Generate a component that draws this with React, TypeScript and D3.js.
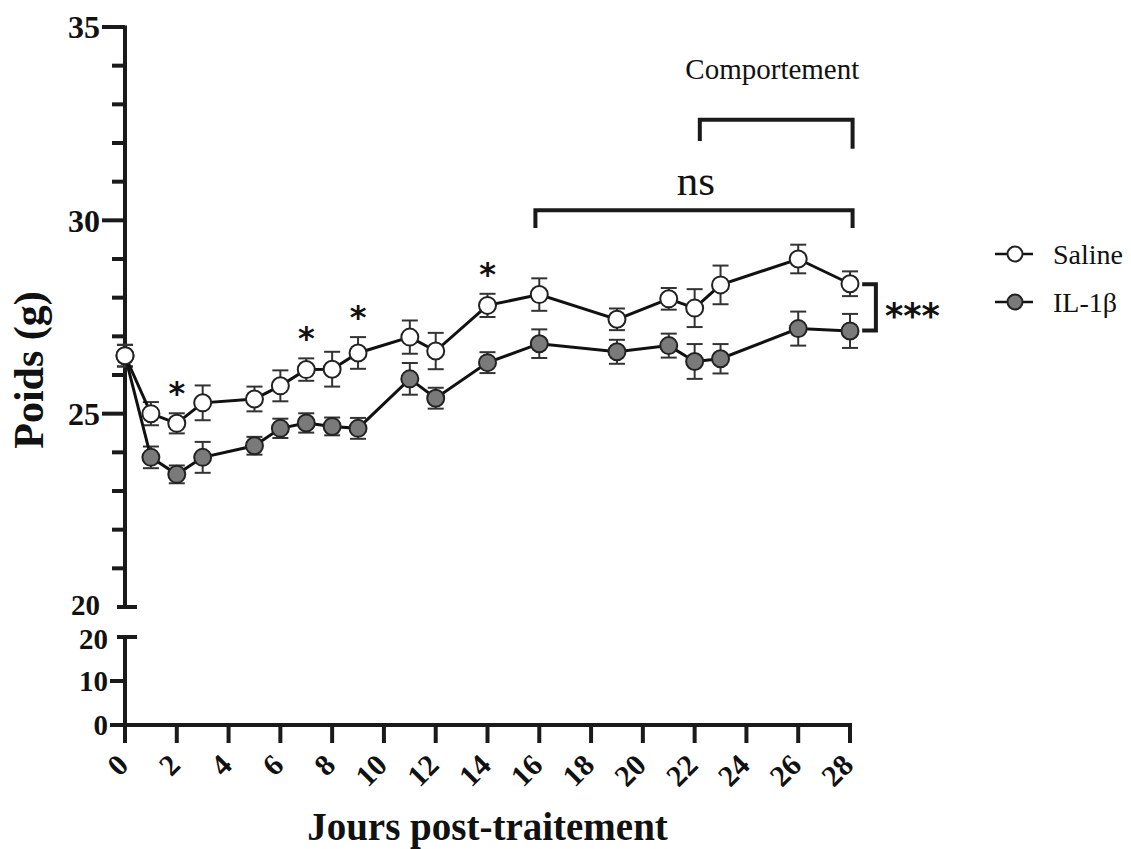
import React from "react";
import * as d3 from "d3";

const days = [0, 1, 2, 3, 5, 6, 7, 8, 9, 11, 12, 14, 16, 19, 21, 22, 23, 26, 28];
const saline = [26.5, 25.0, 24.75, 25.28, 25.38, 25.72, 26.14, 26.15, 26.57, 26.98, 26.62, 27.8, 28.08, 27.44, 27.97, 27.73, 28.33, 29.0, 28.36];
const salineSem = [0.28, 0.3, 0.26, 0.45, 0.32, 0.4, 0.29, 0.45, 0.41, 0.43, 0.47, 0.3, 0.42, 0.28, 0.28, 0.49, 0.5, 0.37, 0.32];
const il1b = [26.5, 23.87, 23.43, 23.87, 24.17, 24.62, 24.76, 24.67, 24.62, 25.9, 25.4, 26.32, 26.81, 26.6, 26.76, 26.35, 26.42, 27.2, 27.14];
const il1bSem = [0.28, 0.28, 0.23, 0.4, 0.23, 0.25, 0.25, 0.23, 0.27, 0.41, 0.27, 0.27, 0.37, 0.31, 0.31, 0.45, 0.38, 0.44, 0.44];
const starDays = [2, 7, 9, 14];
const xTicks = d3.range(0, 29, 2);
const yUpperMajor = [20, 25, 30, 35];
const yUpperMinor = d3.range(21, 35).filter((v) => v % 5 !== 0);
const yLowerTicks = [0, 10, 20];
const seriesNames = ["Saline", "IL-1\u03b2"];

const serif = "'Liberation Serif', 'Times New Roman', serif";
const sans = "'DejaVu Sans', sans-serif";

export default function App() {
  const x = d3.scaleLinear().domain([0, 28]).range([125, 850]);
  const yU = d3.scaleLinear().domain([20, 35]).range([607, 27]);
  const yL = d3.scaleLinear().domain([0, 20]).range([725, 637]);
  const axisX = x(0);
  const line = d3
    .line<[number, number]>()
    .x((d) => x(d[0]))
    .y((d) => yU(d[1]));

  const series = [
    { vals: saline, sem: salineSem, fill: "#ffffff" },
    { vals: il1b, sem: il1bSem, fill: "#7a7a7a" },
  ];

  const stroke = "#1a1a1a";

  return (
    <svg width={1131} height={849} style={{ position: "absolute", left: 0, top: 0, background: "#fff" }}>
      {/* Upper y axis */}
      <line x1={axisX} x2={axisX} y1={yU(35) - 1.5} y2={yU(20)} stroke={stroke} strokeWidth={4} />
      {yUpperMajor.filter((v) => v !== 20).map((v) => (
        <line key={"ma" + v} x1={102} x2={axisX} y1={yU(v)} y2={yU(v)} stroke={stroke} strokeWidth={4} />
      ))}
      {yUpperMinor.map((v) => (
        <line key={"mi" + v} x1={112} x2={axisX} y1={yU(v)} y2={yU(v)} stroke={stroke} strokeWidth={4} />
      ))}
      <line x1={117} x2={137} y1={yU(20)} y2={yU(20)} stroke={stroke} strokeWidth={4} />
      {yUpperMajor.map((v) => (
        <text
          key={"yl" + v}
          x={100}
          y={yU(v) - (v === 20 ? 2 : 0)}
          dy="0.35em"
          textAnchor="end"
          fontFamily={serif}
          fontWeight="bold"
          fontSize={v === 20 ? 29 : 32}
          fill="#111"
        >
          {v}
        </text>
      ))}

      {/* Lower y axis */}
      <line x1={axisX} x2={axisX} y1={yL(20)} y2={yL(0)} stroke={stroke} strokeWidth={4} />
      <line x1={117} x2={137} y1={yL(20)} y2={yL(20)} stroke={stroke} strokeWidth={4} />
      {yLowerTicks.filter((v) => v !== 20).map((v) => (
        <line key={"lt" + v} x1={110} x2={axisX} y1={yL(v)} y2={yL(v)} stroke={stroke} strokeWidth={4} />
      ))}
      {yLowerTicks.map((v) => (
        <text
          key={"ll" + v}
          x={108}
          y={yL(v) + (v === 20 ? 2 : 0)}
          dy="0.35em"
          textAnchor="end"
          fontFamily={serif}
          fontWeight="bold"
          fontSize={29}
          fill="#111"
        >
          {v}
        </text>
      ))}

      {/* X axis */}
      <line x1={110} x2={x(28) + 2} y1={yL(0)} y2={yL(0)} stroke={stroke} strokeWidth={4} />
      {xTicks.map((t) => (
        <g key={"xt" + t}>
          <line x1={x(t)} x2={x(t)} y1={yL(0)} y2={yL(0) + 18} stroke={stroke} strokeWidth={4} />
          <text
            transform={`translate(${x(t) + 5},${yL(0) + 42}) rotate(-45)`}
            textAnchor="end"
            fontFamily={serif}
            fontWeight="bold"
            fontSize={30}
            fill="#111"
          >
            {t}
          </text>
        </g>
      ))}

      {/* Axis titles */}
      <text
        transform={`translate(43,370) rotate(-90)`}
        textAnchor="middle"
        fontFamily={serif}
        fontWeight="bold"
        fontSize={42}
        fill="#111"
      >
        Poids (g)
      </text>
      <text x={(x(0) + x(28)) / 2} y={840} textAnchor="middle" fontFamily={serif} fontWeight="bold" fontSize={39} fill="#111">
        Jours post-traitement
      </text>

      {/* Error bars */}
      {series.map((s, si) =>
        days.map((d, i) => (
          <g key={`e${si}-${i}`} stroke="#333" strokeWidth={2}>
            <line x1={x(d)} x2={x(d)} y1={yU(s.vals[i] + s.sem[i])} y2={yU(s.vals[i] - s.sem[i])} />
            <line x1={x(d) - 8} x2={x(d) + 8} y1={yU(s.vals[i] + s.sem[i])} y2={yU(s.vals[i] + s.sem[i])} />
            <line x1={x(d) - 8} x2={x(d) + 8} y1={yU(s.vals[i] - s.sem[i])} y2={yU(s.vals[i] - s.sem[i])} />
          </g>
        ))
      )}

      {/* Lines */}
      {series.map((s, si) => (
        <path
          key={"ln" + si}
          d={line(days.map((d, i) => [d, s.vals[i]]) as [number, number][]) || ""}
          fill="none"
          stroke="#111"
          strokeWidth={3}
        />
      ))}

      {/* Markers */}
      {series
        .slice()
        .reverse()
        .map((s, si) =>
          days.map((d, i) => (
            <circle key={`c${si}-${i}`} cx={x(d)} cy={yU(s.vals[i])} r={8.5} fill={s.fill} stroke="#222" strokeWidth={2} />
          ))
        )}

      {/* Stars */}
      {starDays.map((d) => {
        const i = days.indexOf(d);
        return (
          <text key={"st" + d} x={x(d)} y={yU(saline[i] + salineSem[i]) - 9} textAnchor="middle" fontFamily={sans} fontWeight="bold" fontSize={32} fill="#111">
            *
          </text>
        );
      })}

      {/* ns bracket */}
      <path d={`M${x(15.85)},${yU(29.8)} V${yU(30.26)} H${x(28.1)} V${yU(29.8)}`} fill="none" stroke={stroke} strokeWidth={4} />
      <text x={x(22.05)} y={195} textAnchor="middle" fontFamily={serif} fontSize={43} fill="#111">
        ns
      </text>

      {/* Comportement bracket */}
      <path d={`M${x(22.2)},${yU(32.05)} V${yU(32.6)} H${x(28.1)} V${yU(31.85)}`} fill="none" stroke={stroke} strokeWidth={4} />
      <text x={x(25.0)} y={79} textAnchor="middle" fontFamily={serif} fontSize={29} fill="#111">
        Comportement
      </text>

      {/* *** bracket */}
      <path d={`M${x(28.47)},${yU(28.35)} H${x(29.0)} V${yU(27.15)} H${x(28.47)}`} fill="none" stroke={stroke} strokeWidth={4} />
      <text x={885} y={yU(27.75)} dy="0.6em" fontFamily={sans} fontWeight="bold" fontSize={35} fill="#111">
        ***
      </text>

      {/* Legend */}
      {seriesNames.map((name, i) => (
        <g key={"lg" + i} transform={`translate(0,${254 + i * 48})`}>
          <line x1={995} x2={1033} y1={0} y2={0} stroke="#111" strokeWidth={2.5} />
          <circle cx={1015} cy={0} r={7.5} fill={series[i].fill} stroke="#222" strokeWidth={2} />
          <text x={1053} y={0} dy="0.35em" fontFamily={serif} fontSize={28} fill="#111">
            {name}
          </text>
        </g>
      ))}
    </svg>
  );
}
